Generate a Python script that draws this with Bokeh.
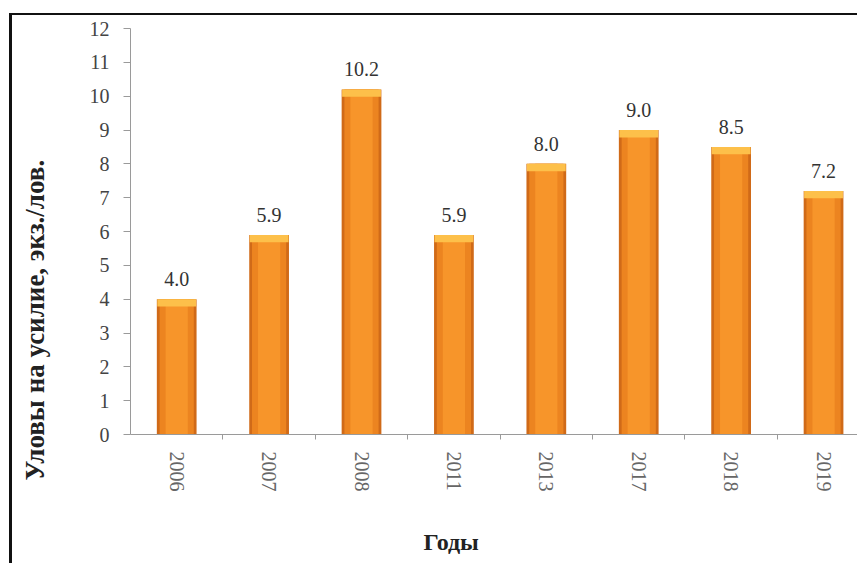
from bokeh.plotting import figure
from bokeh.models import Range1d, FixedTicker, LinearAxis, Title, ColumnDataSource
from bokeh.embed import file_html
from bokeh.resources import INLINE
from bokeh.core.properties import value

# ---- data ----
years = ["2006", "2007", "2008", "2011", "2013", "2017", "2018", "2019"]
catches = [4.0, 5.9, 10.2, 5.9, 8.0, 9.0, 8.5, 7.2]
y_ticks = list(range(0, 13))
y_title = "Уловы на усилие, экз./лов."
x_title = "Годы"

FONT = "Liberation Serif"

xs = [i + 0.5 for i in range(len(years))]
src = ColumnDataSource(dict(
    x=xs,
    top=catches,
    cap=[v - 0.22 for v in catches],
    lab=[f"{v:.1f}" for v in catches],
))

p = figure(width=848, height=550, x_range=Range1d(0, 7.9), y_range=Range1d(0, 12),
           output_backend="svg", toolbar_location=None,
           x_axis_type=None, y_axis_type=None,
           min_border_left=118, min_border_top=13, min_border_bottom=131, min_border_right=0)
p.margin = (13, 0, 0, 9)
p.styles = {"border-top": "2px solid #111", "border-left": "3px solid #111"}
p.grid.visible = False
p.outline_line_color = None
p.background_fill_color = "white"
p.border_fill_color = "white"

# bars (layered to imitate the cylinder shading)
p.vbar(x="x", top="top", bottom=0, width=0.43, source=src, fill_color="#D06A18", line_color=None)
p.vbar(x="x", top="top", bottom=0, width=0.37, source=src, fill_color="#EC8420", line_color=None)
p.vbar(x="x", top="top", bottom=0, width=0.24, source=src, fill_color="#F7952A", line_color=None)
p.vbar(x="x", top="top", bottom="cap", width=0.42, source=src, fill_color="#FDC04A", line_color=None)

p.text(x="x", y="top", text="lab", source=src, y_offset=-20,
       text_align="center", text_baseline="alphabetic",
       text_font=value(FONT), text_font_size="20px", text_color="#333333")

# y axis
yax = LinearAxis(ticker=FixedTicker(ticks=y_ticks, minor_ticks=[]))
yax.axis_line_color = "#9a9a9a"
yax.major_tick_line_color = "#9a9a9a"
yax.major_tick_out = 7
yax.major_tick_in = 0
yax.major_label_standoff = 14
yax.major_label_text_font = FONT
yax.major_label_text_font_size = "20px"
yax.major_label_text_color = "#444444"
yax.axis_label = "."            # invisible spacer
yax.axis_label_text_alpha = 0
yax.axis_label_text_font_size = "10px"
yax.axis_label_standoff = 20
p.add_layout(yax, "left")

# x axis: labels at category centres, ticks at boundaries
xax = LinearAxis(ticker=FixedTicker(ticks=xs, minor_ticks=list(range(1, len(years)))))
xax.major_label_overrides = {x: y for x, y in zip(xs, years)}
xax.axis_line_color = "#9a9a9a"
xax.major_tick_line_color = None
xax.major_tick_out = 5
xax.minor_tick_line_color = "#9a9a9a"
xax.minor_tick_out = 5
xax.minor_tick_in = 0
xax.major_label_orientation = "vertical"
xax.major_label_standoff = 12
xax.major_label_text_font = FONT
xax.major_label_text_font_size = "20px"
xax.major_label_text_color = "#666666"
xax.axis_label = "."            # invisible spacer
xax.axis_label_text_alpha = 0
xax.axis_label_text_font_size = "10px"
xax.axis_label_standoff = 12
p.add_layout(xax, "below")

p.add_layout(Title(text=y_title, align="left", offset=-46, standoff=11,
                   text_font=FONT, text_font_style="bold", text_font_size="27px",
                   text_color="#222222"), "left")
p.add_layout(Title(text=x_title, align="left", offset=293, standoff=19,
                   text_font=FONT, text_font_style="bold", text_font_size="24px",
                   text_color="#222222"), "below")

open("out.html", "w").write(file_html(p, INLINE))
